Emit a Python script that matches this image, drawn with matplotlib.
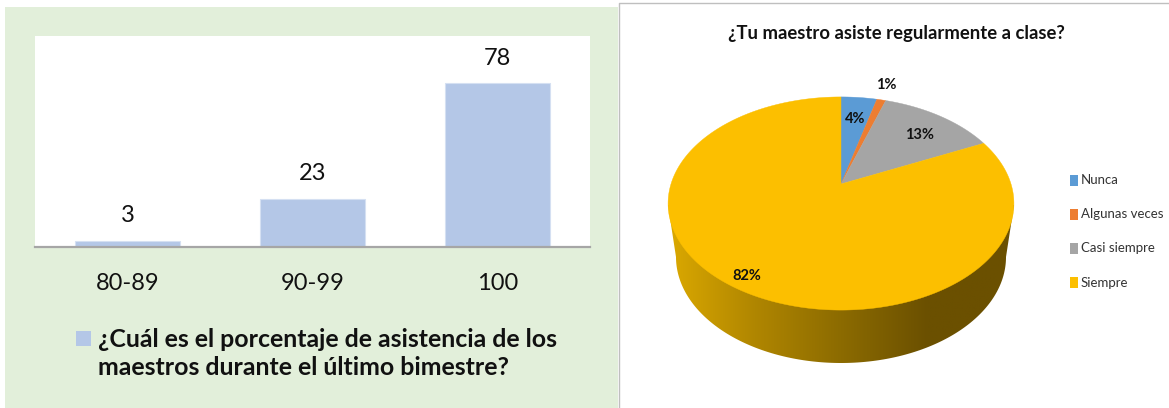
import matplotlib
matplotlib.use("Agg")
import matplotlib.pyplot as plt
from matplotlib.colors import LinearSegmentedColormap
from matplotlib.patches import Rectangle, Polygon
import numpy as np

plt.rcParams['font.family'] = ['Lato', 'DejaVu Sans']

# bar chart
rangos = ["80-89", "90-99", "100"]
asistencia = [3, 23, 78]
titulo_barras = "¿Cuál es el porcentaje de asistencia de los\nmaestros durante el último bimestre?"

# pie chart
respuestas = ["Nunca", "Algunas veces", "Casi siempre", "Siempre"]
porcentajes = [4, 1, 13, 82]
etiquetas = ["4%", "1%", "13%", "82%"]
colores = ["#5B9BD5", "#ED7D31", "#A5A5A5", "#FCBF00"]
titulo_pie = "¿Tu maestro asiste regularmente a clase?"

W, H = 1169, 408
fig = plt.figure(figsize=(W / 100, H / 100), dpi=100, facecolor="white")

# background axes in pixels, y going down
bg = fig.add_axes([0, 0, 1, 1])
bg.set_xlim(0, W)
bg.set_ylim(H, 0)
bg.axis("off")

bg.add_patch(Rectangle((5, 7), 613, 401, fc="#E2EFDA", ec="none"))
bg.plot([619, 619, W], [H, 3, 3], color="#BFBFBF", lw=1)

# --- bars ---
ax = fig.add_axes([35 / W, 1 - 247 / H, 555 / W, 211 / H])
ax.set_facecolor("white")
ax.bar(range(3), asistencia, width=0.57, color="#B4C7E7", edgecolor="#D5E0F2", lw=0.8)
ax.set_xlim(-0.5, 2.5)
ax.set_ylim(0, 100.5)
ax.set_yticks([])
ax.set_xticks(range(3))
ax.set_xticklabels(rangos, fontsize=17, color="#111111")
ax.tick_params(axis="x", length=0, pad=19)
for s in ["top", "left", "right"]:
    ax.spines[s].set_visible(False)
ax.spines["bottom"].set_color("#A6A6A6")
ax.spines["bottom"].set_linewidth(1.6)
for i, v in enumerate(asistencia):
    ax.annotate(str(v), (i, v), xytext=(0, 10.5), textcoords="offset points",
                ha="center", va="bottom", fontsize=17, color="#111111")

bg.add_patch(Rectangle((76, 331), 15, 15, fc="#B4C7E7", ec="none"))
bg.text(98, 353.5, titulo_barras, fontsize=17.9, fontweight="bold", color="#111111",
        va="center", ha="left", linespacing=1.3)

# --- pie, a circle seen in perspective ---
cx, cy = 841, 184
A, B, k = 170, 103, 0.183


def proyecta(theta):
    u, v = np.sin(theta), np.cos(theta)
    d = 1 + k * v
    return cx + A * u / d, cy - B * v / d


# side wall with gradient
low_t = np.linspace(-np.pi / 2, np.pi / 2, 200)
lx = 841 - 165 * np.sin(low_t)
ly = 257 + 106 * np.cos(low_t)
pared = np.r_[np.c_[[668, 1014], [205, 205]], np.c_[lx, ly]]
cmap = LinearSegmentedColormap.from_list("pared", ["#DBA900", "#B08600", "#8C6B00", "#6B5000", "#6B5000"])
im = bg.imshow(np.linspace(0, 1, 256)[None, :], extent=(668, 1014, 368, 190), cmap=cmap, aspect="auto", zorder=1)
pp = Polygon(pared, transform=bg.transData, fc="none", ec="none")
bg.add_patch(pp)
im.set_clip_path(pp)
bg.set_xlim(0, W)
bg.set_ylim(H, 0)

# top face, one polygon per answer
acum = 0
for valor, color in zip(porcentajes, colores):
    t = np.linspace(acum, acum + valor, max(valor * 4, 8)) / sum(porcentajes) * 2 * np.pi
    px, py = proyecta(t)
    bg.fill(np.r_[cx, px], np.r_[cy, py], color=color, lw=0.3, zorder=2)
    acum += valor

pos_etiquetas = [(855, 119), (886, 85), (920, 135), (747, 276)]
for txt, (x, y) in zip(etiquetas, pos_etiquetas):
    bg.text(x, y, txt, fontsize=10.5, fontweight="bold", ha="center", va="center", color="#111111", zorder=3)

bg.text(896, 33, titulo_pie, fontsize=13.3, fontweight="bold", ha="center", va="center", color="#111111")

for i, (nombre, color) in enumerate(zip(respuestas, colores)):
    y = 180 + i * 34.2
    bg.add_patch(Rectangle((1070, y - 5.5), 8, 11, fc=color, ec="none"))
    bg.text(1081, y, nombre, fontsize=9.5, ha="left", va="center", color="#333333")

fig.savefig("out.png", dpi=100)
